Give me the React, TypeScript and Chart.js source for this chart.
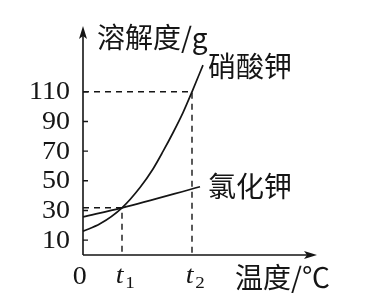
import React, { useEffect, useRef } from 'react';
import { Chart, registerables } from 'chart.js';

Chart.register(...registerables);

// ---- data ----
const yTickValues = [10, 30, 50, 70, 90, 110];
const T1 = 39; // position of t1 on the temperature axis
const T2 = 109; // position of t2
const kno3X = [0, 17, 39, 57, 70, 80, 90, 100, 109, 120];
const kno3Y = [16, 21, 31.8, 45.5, 58, 69.8, 82.4, 96, 110, 128];
const kclX = [0, 39, 117];
const kclY = [25.7, 31.8, 46];
const crossY = 31.8;
const t2Y = 110;
const seriesNames = ['硝酸钾', '氯化钾'];
const yTitle = '溶解度/g';
const xTitle = '温度/℃';
const xTickLabels = [
  { v: 0, main: '0', sub: '' },
  { v: T1, main: 't', sub: '1' },
  { v: T2, main: 't', sub: '2' },
];
const xMax = 232;
const yMax = 153;

const INK = '#151515';
const CJK = '"Noto Sans CJK SC", "Noto Sans", sans-serif';
const SERIF = '"Liberation Serif", "DejaVu Serif", serif';

const overlay = {
  id: 'overlay',
  afterDraw(chart: any) {
    const ctx = chart.ctx;
    const xs = chart.scales.x;
    const ys = chart.scales.y;
    const ox = xs.getPixelForValue(0);
    const oy = ys.getPixelForValue(0);
    const top = ys.getPixelForValue(yMax);
    const right = xs.getPixelForValue(xMax);
    ctx.save();
    ctx.strokeStyle = INK;
    ctx.fillStyle = INK;
    ctx.lineWidth = 1.6;
    // axes
    ctx.beginPath();
    ctx.moveTo(ox, oy);
    ctx.lineTo(ox, top + 6);
    ctx.moveTo(ox, oy);
    ctx.lineTo(right - 6, oy);
    ctx.stroke();
    // arrowheads
    ctx.beginPath();
    ctx.moveTo(ox, top - 2);
    ctx.lineTo(ox - 4, top + 11);
    ctx.lineTo(ox, top + 8);
    ctx.lineTo(ox + 4, top + 11);
    ctx.closePath();
    ctx.fill();
    ctx.beginPath();
    ctx.moveTo(right + 2, oy);
    ctx.lineTo(right - 11, oy - 4);
    ctx.lineTo(right - 8, oy);
    ctx.lineTo(right - 11, oy + 4);
    ctx.closePath();
    ctx.fill();
    // y tick marks and labels (from the scale's ticks)
    ctx.lineWidth = 1.4;
    ctx.beginPath();
    ctx.textBaseline = 'middle';
    ctx.textAlign = 'right';
    for (const t of ys.ticks) {
      const py = ys.getPixelForValue(t.value);
      ctx.moveTo(ox, py);
      ctx.lineTo(ox + 5, py);
      ctx.save();
      ctx.translate(ox - 13, py + 1);
      ctx.scale(1.12, 1);
      ctx.font = `25px ${SERIF}`;
      ctx.fillText(String(t.value), 0, 0);
      ctx.restore();
    }
    ctx.stroke();
    // x tick labels
    const ly = oy + 22;
    for (const t of xTickLabels) {
      const px = xs.getPixelForValue(t.v);
      ctx.save();
      ctx.translate(px, ly);
      ctx.scale(1.12, 1);
      if (!t.sub) {
        ctx.font = `25px ${SERIF}`;
        ctx.textAlign = 'center';
        ctx.fillText(t.main, -3, 0);
      } else {
        ctx.font = `italic 25px ${SERIF}`;
        ctx.textAlign = 'center';
        ctx.fillText(t.main, -2, -1);
        ctx.font = `17px ${SERIF}`;
        ctx.textAlign = 'left';
        ctx.fillText(t.sub, 3, 7);
      }
      ctx.restore();
    }
    // titles
    ctx.font = `28px ${CJK}`;
    ctx.textAlign = 'left';
    ctx.fillText(yTitle, ox + 14, top + 9);
    ctx.fillText(xTitle, xs.getPixelForValue(152), ly);
    // series labels
    ctx.fillText(seriesNames[0], xs.getPixelForValue(125), ys.getPixelForValue(127));
    ctx.fillText(seriesNames[1], xs.getPixelForValue(125), ys.getPixelForValue(46));
    ctx.restore();
  },
};

export default function App() {
  const ref = useRef<HTMLCanvasElement | null>(null);
  useEffect(() => {
    if (!ref.current) return;
    const pts = (xs: number[], ys: number[]) => xs.map((x, i) => ({ x, y: ys[i] }));
    const chart = new Chart(ref.current, {
      type: 'line',
      data: {
        datasets: [
          {
            label: seriesNames[0],
            data: pts(kno3X, kno3Y),
            borderColor: INK,
            borderWidth: 1.7,
            pointRadius: 0,
            cubicInterpolationMode: 'monotone',
            fill: false,
          },
          {
            label: seriesNames[1],
            data: pts(kclX, kclY),
            borderColor: INK,
            borderWidth: 1.7,
            pointRadius: 0,
            cubicInterpolationMode: 'monotone',
            fill: false,
          },
          {
            label: 'd1',
            data: [
              { x: 0, y: crossY },
              { x: T1, y: crossY },
              { x: T1, y: 0 },
            ],
            borderColor: INK,
            borderWidth: 1.4,
            borderDash: [6, 5],
            pointRadius: 0,
            tension: 0,
            fill: false,
          },
          {
            label: 'd2',
            data: [
              { x: 0, y: t2Y },
              { x: T2, y: t2Y },
              { x: T2, y: 0 },
            ],
            borderColor: INK,
            borderWidth: 1.4,
            borderDash: [6, 5],
            pointRadius: 0,
            tension: 0,
            fill: false,
          },
        ],
      },
      options: {
        animation: false,
        responsive: false,
        clip: false as any,
        layout: { padding: { top: 28, right: 56, left: 0, bottom: 0 } },
        plugins: { legend: { display: false }, tooltip: { enabled: false } },
        scales: {
          x: {
            type: 'linear',
            min: 0,
            max: xMax,
            grid: { display: false, drawTicks: false },
            border: { display: false },
            ticks: { display: false },
            afterFit: (s: any) => {
              s.height = 53;
            },
          },
          y: {
            type: 'linear',
            min: 0,
            max: yMax,
            grid: { display: false, drawTicks: false },
            border: { display: false },
            afterBuildTicks: (s: any) => {
              s.ticks = yTickValues.map((v) => ({ value: v }));
            },
            ticks: { display: false },
            afterFit: (s: any) => {
              s.width = 83;
            },
          },
        },
      },
      plugins: [overlay],
    });
    return () => chart.destroy();
  }, []);
  return (
    <div style={{ position: 'absolute', left: 0, top: 0, width: 371, height: 308, background: '#fff' }}>
      <canvas ref={ref} width={371} height={308} />
    </div>
  );
}
